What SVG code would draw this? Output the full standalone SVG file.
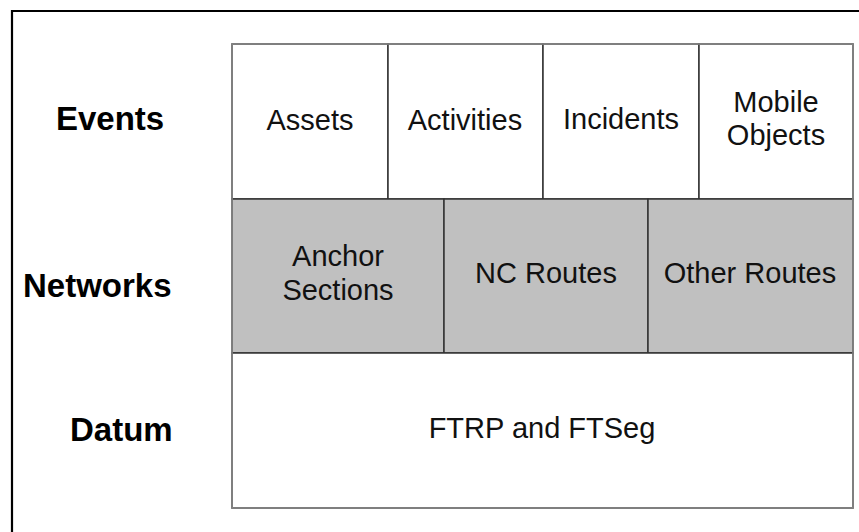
<svg xmlns="http://www.w3.org/2000/svg" width="859" height="532" viewBox="0 0 859 532">
<style>
.lbl{font-family:"Liberation Sans",Arial,sans-serif;font-weight:bold;font-size:33px;fill:#000}
.t{font-family:"Liberation Sans",Arial,sans-serif;font-size:29px;fill:#111;text-anchor:middle}
.cw{fill:#fff;stroke:#333;stroke-width:1.5}
.cg{fill:#c0c0c0;stroke:#333;stroke-width:1.5}
</style>
<rect x="0" y="0" width="859" height="532" fill="#fff"/>
<g id="frame">
<line x1="11" y1="11" x2="859" y2="11" stroke="#000" stroke-width="2.2"/>
<line x1="12" y1="10" x2="12" y2="532" stroke="#000" stroke-width="2.2"/>
</g>
<g id="row-labels">
<text id="lbl-events" class="lbl" x="56" y="130">Events</text>
<text id="lbl-networks" class="lbl" x="23" y="297">Networks</text>
<text id="lbl-datum" class="lbl" x="70" y="441">Datum</text>
</g>
<g id="assets"><rect class="cw" x="232" y="44" width="156" height="155"/><text class="t" x="310" y="130">Assets</text></g>
<g id="activities"><rect class="cw" x="388" y="44" width="155" height="155"/><text class="t" x="465" y="130">Activities</text></g>
<g id="incidents"><rect class="cw" x="543" y="44" width="156" height="155"/><text class="t" x="621" y="129">Incidents</text></g>
<g id="mobile-objects"><rect class="cw" x="699" y="44" width="154" height="155"/><text class="t" x="776" y="112">Mobile</text><text class="t" x="776" y="145">Objects</text></g>
<g id="anchor-sections"><rect class="cg" x="232" y="199" width="212" height="154"/><text class="t" x="338" y="266">Anchor</text><text class="t" x="338" y="300">Sections</text></g>
<g id="nc-routes"><rect class="cg" x="444" y="199" width="204" height="154"/><text class="t" x="546" y="283">NC Routes</text></g>
<g id="other-routes"><rect class="cg" x="648" y="199" width="205" height="154"/><text class="t" x="750" y="283">Other Routes</text></g>
<g id="datum"><rect class="cw" x="232" y="353" width="621" height="155"/><text class="t" x="542" y="438">FTRP and FTSeg</text></g>
<g id="connectors"></g>
<rect x="232" y="44" width="621" height="464" fill="none" stroke="#888" stroke-width="1.5"/>
</svg>
